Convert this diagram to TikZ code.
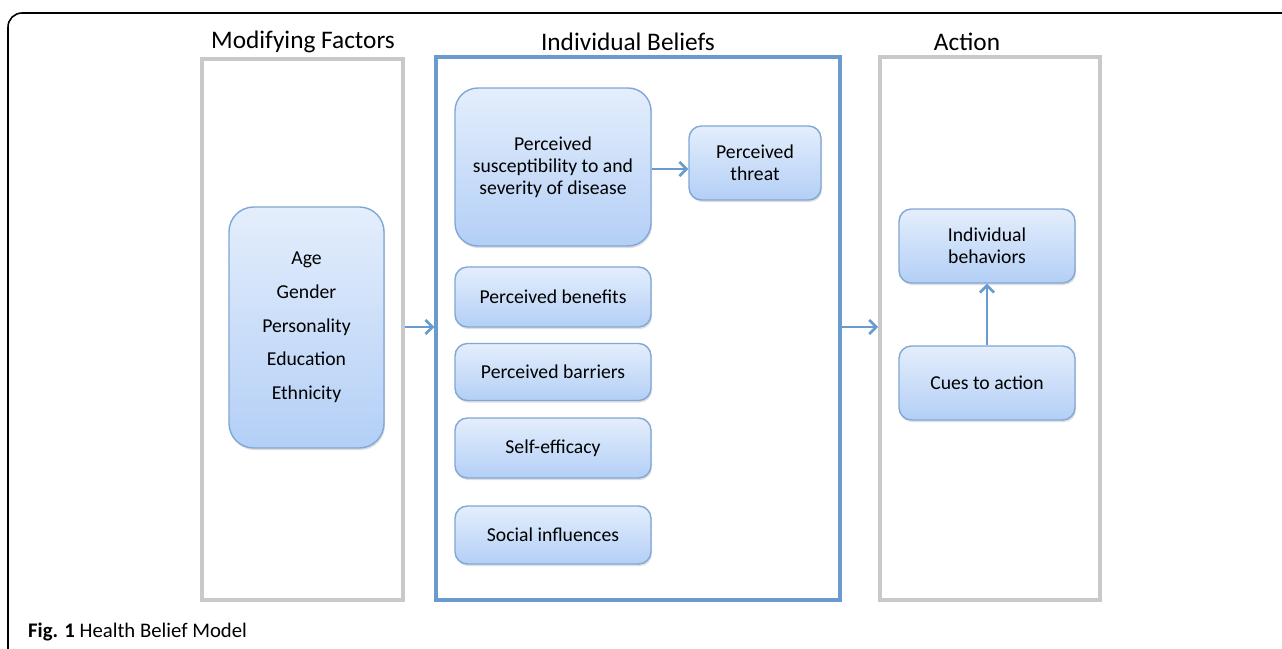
\documentclass[tikz,border=0pt]{standalone}
\usepackage{fontspec}
\setmainfont{Carlito}
\usetikzlibrary{positioning}
\usetikzlibrary{shadows}
\usetikzlibrary{arrows.meta}

\definecolor{boxtop}{HTML}{E4EEFC}
\definecolor{boxbottom}{HTML}{B3CFF6}
\definecolor{boxline}{HTML}{80A7D6}
\definecolor{beliefblue}{HTML}{6A9BCF}
\definecolor{panelgray}{HTML}{C9C9C9}

\tikzset{
  panel/.style={draw=panelgray, line width=2.2pt, fill=white},
  beliefpanel/.style={draw=beliefblue, line width=1.9pt},
  factor/.style={draw=boxline, line width=0.8pt, top color=boxtop, bottom color=boxbottom,
    align=center, font=\fontsize{11.2}{12.5}\selectfont,
    drop shadow={opacity=0.25, shadow xshift=0.6pt, shadow yshift=-1.2pt}},
  heading/.style={font=\fontsize{14.4}{16}\selectfont},
  link/.style={-{Straight Barb[length=4pt, width=8pt]}, draw=beliefblue, line width=1.5pt}
}

\begin{document}
\begin{tikzpicture}[x=0.02cm, y=-0.02cm]
  \useasboundingbox (0,0) rectangle (1282,649);
  \fill[white] (0,0) rectangle (1282,649);
  \draw[line width=0.9pt, rounded corners=8pt] (8,660) -- (8,13) -- (1290,13);

  % the three columns
  \node[panel, minimum width=4.02cm, minimum height=10.82cm] (mod) at (302.5,329.5) {};
  \node[beliefpanel, minimum width=8.08cm, minimum height=10.86cm] (blf) at (638,328.5) {};
  \node[panel, minimum width=4.4cm, minimum height=10.86cm] (act) at (990,328.5) {};

  \node[heading] (modtitle) at (303,42) {Modifying Factors};
  \node[heading] (blftitle) at (628,42) {Individual Beliefs};
  \node[heading] (acttitle) at (967,42) {Action};

  % modifying factors
  \node[factor, rounded corners=14pt, minimum width=3.1cm, minimum height=4.82cm,
    font=\fontsize{11.2}{19.2}\selectfont] (age) at (306.5,327.5)
    {Age\\Gender\\Personality\\Education\\Ethnicity};

  % individual beliefs
  \node[factor, rounded corners=13pt, minimum width=3.92cm, minimum height=3.16cm] (susc) at (553,167)
    {Perceived\\susceptibility to and\\severity of disease};
  \node[factor, rounded corners=7pt, minimum width=2.64cm, minimum height=1.48cm] (threat) at (755,163)
    {Perceived\\threat};
  \node[factor, rounded corners=7pt, minimum width=3.92cm, minimum height=1.2cm] (benefit) at (553,297)
    {Perceived benefits};
  \node[factor, rounded corners=7pt, minimum width=3.92cm, minimum height=1.14cm] (barrier) at (553,372)
    {Perceived barriers};
  \node[factor, rounded corners=7pt, minimum width=3.92cm, minimum height=1.2cm] (selfeff) at (553,448)
    {Self-efficacy};
  \node[factor, rounded corners=7pt, minimum width=3.92cm, minimum height=1.16cm] (social) at (553,535)
    {Social influences};

  % action
  \node[factor, rounded corners=7pt, minimum width=3.52cm, minimum height=1.48cm] (behav) at (987,246)
    {Individual\\behaviors};
  \node[factor, rounded corners=7pt, minimum width=3.52cm, minimum height=1.48cm] (cues) at (987,383)
    {Cues to action};

  % arrows
  \draw[link] (susc.east |- 0,169) -- (threat.west |- 0,169);
  \draw[link] (mod.east |- 0,327) -- (blf.west |- 0,327);
  \draw[link] (blf.east |- 0,327) -- (act.west |- 0,327);
  \draw[link] (cues) -- (behav);

  \node[anchor=west, font=\fontsize{11.8}{14}\selectfont] (caption) at (22,632)
    {\textbf{Fig. 1} Health Belief Model};
\end{tikzpicture}
\end{document}
